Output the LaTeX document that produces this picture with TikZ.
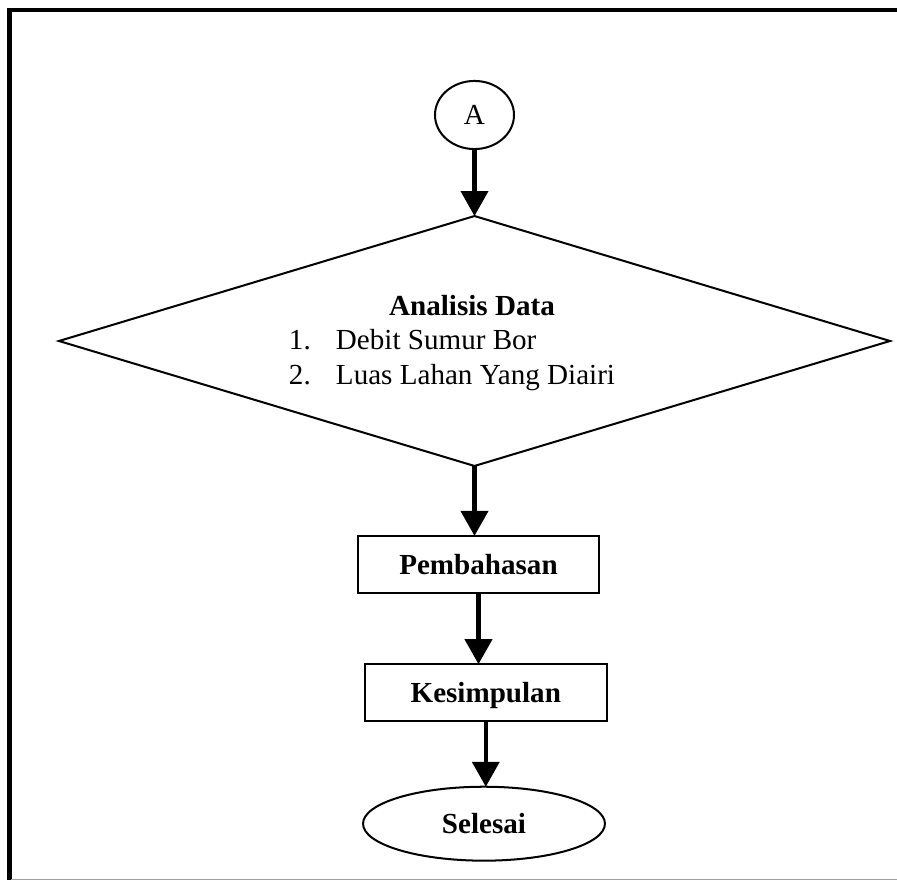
\documentclass[tikz,border=0pt]{standalone}
\usepackage{fontspec}
\setmainfont{Liberation Serif}
\usepackage{xcolor}
\definecolor{base01}{HTML}{000000}
\definecolor{base02}{HTML}{a0a0a0}
\usepackage{tikz}
\usetikzlibrary{arrows.meta, positioning, shapes}
\tikzset{
    term/.style={
        ellipse, draw=base01, line width=0.83pt,
        inner sep=0pt, outer sep=0pt,
        text height=9.5pt, text depth=1.5pt
    },
    proc/.style={
        rectangle, draw=base01, line width=0.83pt,
        inner sep=0pt, outer sep=0pt,
        minimum width=99.7pt, minimum height=23.6pt,
        text height=9.5pt, text depth=1.5pt,
        font=\fontsize{12pt}{14.4pt}\selectfont\bfseries
    },
    decision/.style={
        diamond, draw=base01, line width=0.83pt,
        inner sep=0pt, outer sep=0pt, aspect=3.32,
        minimum width=342.8pt, minimum height=103.1pt
    },
    conn/.style={
        line width=1.75pt,
        -{Triangle[length=10.3pt, width=11.1pt]},
    },
}

\begin{document}
\begin{tikzpicture}[x=0.4125pt, y=-0.4125pt, font=\fontsize{12pt}{14.4pt}\selectfont]
        \useasboundingbox (0,0) rectangle (897,880);
        \draw[base01, line width=2.06pt] (9.4,880) -- (9.4,10) -- (897,10);
        \draw[base02, line width=0.5pt] (11,879.5) -- (897,879.5);

        \node[term, minimum width=32.6pt, minimum height=28.1pt] (conA) at (474.5,115) {A};
        \node[decision] (diag) at (474.5,341) {};
        \node[inner sep=0pt] (analisis) at (452,343) {\begin{tabular}{@{}p{19.4pt}@{}l@{}}
            \multicolumn{2}{@{}c@{}}{\hspace{16.5pt}\textbf{Analisis Data}}\\
            1. & Debit Sumur Bor\\
            2. & Luas Lahan Yang Diairi
        \end{tabular}};
        \node[proc] (pemb) at (478.5,564.5) {Pembahasan};
        \node[proc] (kes) at (485.8,692.8) {Kesimpulan};
        \node[term, minimum width=99.8pt, minimum height=30.5pt] (selesai) at (484,823.7) {\textbf{Selesai}};

        \foreach \a/\b in {conA/diag, diag/pemb, pemb/kes, kes/selesai}
            \draw[conn] (\a.south) -- (\a.south |- \b.north);
    \end{tikzpicture}
\end{document}
